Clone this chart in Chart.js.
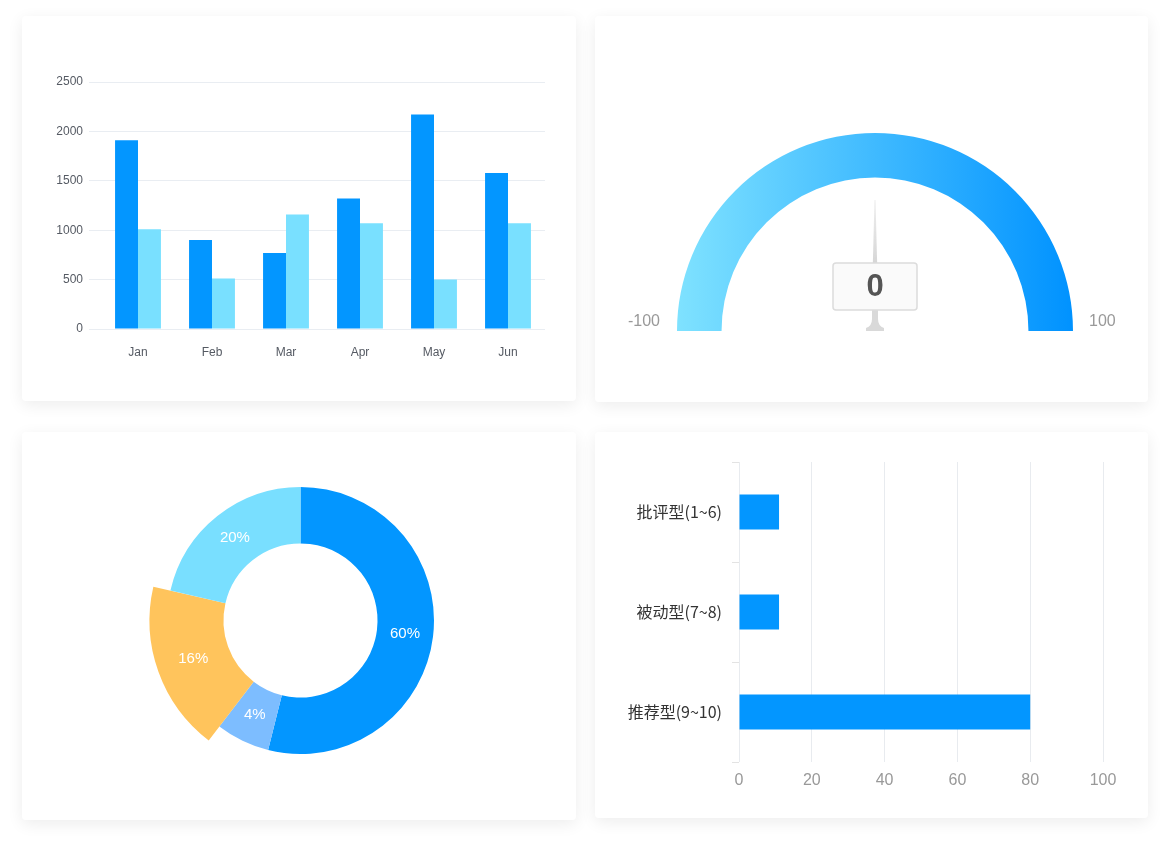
<!DOCTYPE html>
<html><head><meta charset="utf-8">
<script src="https://cdn.jsdelivr.net/npm/chart.js@4.4.1/dist/chart.umd.min.js"></script>
<style>
html,body{margin:0;padding:0;background:#fff;width:1170px;height:848px;overflow:hidden}
.card{position:absolute;background:#fff;border-radius:4px;box-shadow:0 4px 16px rgba(0,0,0,0.075)}
</style></head><body>
<div class="card" style="left:22px;top:16px;width:554px;height:385px"><canvas id="barChart"></canvas></div>
<div class="card" style="left:595px;top:16px;width:553px;height:386px"><canvas id="gaugeChart"></canvas></div>
<div class="card" style="left:22px;top:432px;width:554px;height:388px"><canvas id="pieChart"></canvas></div>
<div class="card" style="left:595px;top:432px;width:553px;height:386px"><canvas id="hbarChart"></canvas></div>
<script>
// ---- data ----
const months = ['Jan','Feb','Mar','Apr','May','Jun'];
const seriesDark = [1910, 900, 770, 1320, 2170, 1580];
const seriesLight = [1010, 510, 1160, 1070, 500, 1070];
const barTickValues = [0, 500, 1000, 1500, 2000, 2500];

const gaugeMin = -100;
const gaugeMax = 100;
const gaugeValue = [0];

const sliceLabels = ['60%', '4%', '16%', '20%'];
const sliceShares = [53.9, 6.5, 18.2, 21.4];
const sliceColors = ['#0396ff', '#7dbdff', '#ffc45c', '#79dfff'];
const emphasisIndex = 2;

const npsCategories = ['批评型(1~6)', '被动型(7~8)', '推荐型(9~10)'];
const npsValues = [11, 11, 80];
const npsTicks = [0, 20, 40, 60, 80, 100];

Chart.defaults.font.family = "'Liberation Sans', 'Noto Sans CJK SC', sans-serif";
Chart.defaults.animation = false;

const DARK = '#0396ff', LIGHT = '#79e0ff';

// ---- chart 1: grouped bars ----
new Chart(document.getElementById('barChart'), {
  type: 'bar',
  data: {
    labels: months,
    datasets: [
      {data: seriesDark, backgroundColor: DARK, categoryPercentage: 0.62, barPercentage: 1},
      {data: seriesLight, backgroundColor: LIGHT, categoryPercentage: 0.62, barPercentage: 1}
    ]
  },
  options: {
    responsive: true, maintainAspectRatio: false,
    layout: {padding: {top: 66, right: 31, left: 0, bottom: 0}},
    plugins: {legend: {display: false}, tooltip: {enabled: false}},
    scales: {
      x: {
        grid: {display: false, drawTicks: false},
        border: {display: false},
        ticks: {color: '#555a63', font: {size: 12}, padding: 16},
        afterFit(s) { s.height = 72; }
      },
      y: {
        min: barTickValues[0], max: barTickValues[barTickValues.length - 1],
        afterBuildTicks(s) { s.ticks = barTickValues.map(v => ({value: v})); },
        ticks: {color: '#555a63', font: {size: 12}, padding: 6, callback: v => String(v)},
        grid: {color: '#e9edf2', tickColor: '#e9edf2', tickLength: 12},
        border: {display: false},
        afterFit(s) { s.width = 79; }
      }
    }
  }
});

// ---- chart 2: gauge ----
const gaugeDeco = {
  id: 'gaugeDeco',
  afterDatasetsDraw(chart) {
    const arc = chart.getDatasetMeta(0).data[0];
    if (!arc) return;
    const ctx = chart.ctx;
    const cx = arc.x, cy = arc.y, R = arc.outerRadius;
    ctx.save();
    ctx.font = "16px 'Liberation Sans', sans-serif";
    ctx.fillStyle = '#999';
    ctx.textBaseline = 'middle';
    ctx.textAlign = 'right';
    ctx.fillText(String(gaugeMin), cx - R - 17, cy - 9);
    ctx.textAlign = 'left';
    ctx.fillText(String(gaugeMax), cx + R + 16, cy - 9);

    // needle
    const ang = Math.PI + (gaugeValue[0] - gaugeMin) / (gaugeMax - gaugeMin) * Math.PI;
    ctx.save();
    ctx.translate(cx, cy);
    ctx.rotate(ang - 1.5 * Math.PI);
    const g = ctx.createLinearGradient(0, -131, 0, -68);
    g.addColorStop(0, 'rgba(225,225,225,0.6)');
    g.addColorStop(1, '#d6d6d6');
    ctx.fillStyle = g;
    ctx.beginPath();
    ctx.moveTo(-2.2, -66); ctx.lineTo(2.2, -66); ctx.lineTo(0.5, -131); ctx.lineTo(-0.5, -131);
    ctx.closePath(); ctx.fill();
    ctx.restore();

    // stem + base
    ctx.fillStyle = '#d9d9d9';
    ctx.fillRect(cx - 3, cy - 22, 6, 12);
    ctx.beginPath();
    ctx.moveTo(cx - 3, cy - 12);
    ctx.quadraticCurveTo(cx - 3, cy - 5, cx - 9, cy - 3);
    ctx.lineTo(cx - 9, cy); ctx.lineTo(cx + 9, cy); ctx.lineTo(cx + 9, cy - 3);
    ctx.quadraticCurveTo(cx + 3, cy - 5, cx + 3, cy - 12);
    ctx.closePath(); ctx.fill();

    // value box
    const bx = cx - 42, by = cy - 68, bw = 84, bh = 47;
    ctx.beginPath();
    if (ctx.roundRect) ctx.roundRect(bx, by, bw, bh, 3); else ctx.rect(bx, by, bw, bh);
    ctx.fillStyle = '#fafafa';
    ctx.fill();
    ctx.lineWidth = 1.5;
    ctx.strokeStyle = '#dcdcdc';
    ctx.stroke();
    ctx.fillStyle = '#555';
    ctx.font = "bold 31px 'Liberation Sans', sans-serif";
    ctx.textAlign = 'center';
    ctx.textBaseline = 'middle';
    ctx.fillText(String(gaugeValue[0]), cx, by + bh / 2 + 1);
    ctx.restore();
  }
};
new Chart(document.getElementById('gaugeChart'), {
  type: 'doughnut',
  data: {
    labels: ['range'],
    datasets: [{
      data: [gaugeMax - gaugeMin],
      borderWidth: 0, hoverOffset: 0,
      backgroundColor(c) {
        const ca = c.chart.chartArea;
        if (!ca) return '#40baff';
        const g = c.chart.ctx.createLinearGradient(ca.left, 0, ca.right, 0);
        g.addColorStop(0, '#7fe2ff');
        g.addColorStop(1, '#0092ff');
        return g;
      }
    }]
  },
  options: {
    responsive: true, maintainAspectRatio: false,
    rotation: -90, circumference: 180, cutout: '77.5%',
    layout: {padding: {left: 82, right: 75, top: 117, bottom: 71}},
    plugins: {legend: {display: false}, tooltip: {enabled: false}}
  },
  plugins: [gaugeDeco]
});

// ---- chart 3: doughnut ----
const pieDeco = {
  id: 'pieDeco',
  afterDatasetUpdate(chart, args) {
    const arc = args.meta.data[emphasisIndex];
    if (arc) arc.outerRadius = arc.outerRadius + 17.5;
  },
  afterDatasetsDraw(chart) {
    const ctx = chart.ctx;
    const meta = chart.getDatasetMeta(0);
    ctx.save();
    ctx.fillStyle = '#fff';
    ctx.font = "15px 'Liberation Sans', sans-serif";
    ctx.textAlign = 'center';
    ctx.textBaseline = 'middle';
    meta.data.forEach((arc, i) => {
      const p = arc.getCenterPoint();
      ctx.fillText(sliceLabels[i], p.x, p.y);
    });
    ctx.restore();
  }
};
new Chart(document.getElementById('pieChart'), {
  type: 'doughnut',
  data: {
    labels: sliceLabels,
    datasets: [{data: sliceShares, backgroundColor: sliceColors, borderWidth: 0, hoverOffset: 0}]
  },
  options: {
    responsive: true, maintainAspectRatio: false,
    cutout: '57.7%',
    layout: {padding: {left: 145, right: 142, top: 55, bottom: 66}},
    plugins: {legend: {display: false}, tooltip: {enabled: false}}
  },
  plugins: [pieDeco]
});

// ---- chart 4: horizontal bars ----
new Chart(document.getElementById('hbarChart'), {
  type: 'bar',
  data: {
    labels: npsCategories,
    datasets: [{data: npsValues, backgroundColor: DARK, barPercentage: 0.35, categoryPercentage: 1}]
  },
  options: {
    indexAxis: 'y',
    responsive: true, maintainAspectRatio: false,
    layout: {padding: {top: 30, right: 45, left: 0, bottom: 0}},
    plugins: {legend: {display: false}, tooltip: {enabled: false}},
    scales: {
      x: {
        min: npsTicks[0], max: npsTicks[npsTicks.length - 1],
        afterBuildTicks(s) { s.ticks = npsTicks.map(v => ({value: v})); },
        grid: {color: '#e8ebef', drawTicks: false},
        border: {display: false},
        ticks: {color: '#999', font: {size: 16}, padding: 9},
        afterFit(s) { s.height = 56; }
      },
      y: {
        grid: {drawOnChartArea: false, drawTicks: true, tickLength: 7, tickColor: '#e3e3e3', offset: true},
        border: {display: false},
        ticks: {color: '#333', font: {size: 16, family: "'Noto Sans CJK SC', 'Liberation Sans', sans-serif"}, padding: 10},
        afterFit(s) { s.width = 144; }
      }
    }
  }
});
</script>
</body></html>
